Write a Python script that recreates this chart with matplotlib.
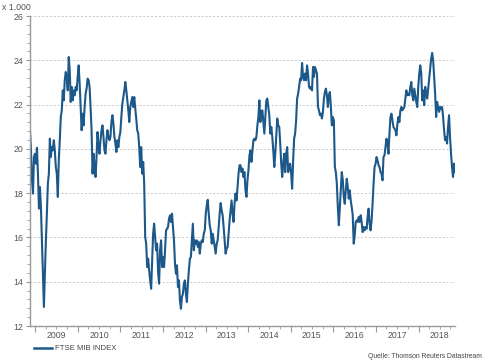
import matplotlib
matplotlib.use("Agg")
import matplotlib.pyplot as plt
import matplotlib.dates as mdates
import matplotlib.transforms as mtransforms
import numpy as np
import pandas as pd

# FTSE MIB index (x 1.000), roughly weekly
vals_2008_2010 = [20.84, 19.93, 18.58, 17.98, 19.63, 19.78, 19.33, 20.05, 18.88, 17.30, 18.28, 17.37,
                  15.87, 14.36, 12.86, 14.36, 15.87, 17.07, 18.43, 18.88, 20.46, 19.63, 20.08, 19.93,
                  20.39, 19.93, 19.18, 18.88, 17.83, 19.48, 20.39, 21.44, 21.74, 22.64, 22.19, 23.10,
                  23.47, 23.25, 22.64, 24.15, 23.55, 22.12, 22.80, 22.19, 22.64, 22.42, 22.80, 22.64,
                  23.25, 23.77, 22.95, 21.89, 20.84, 21.59, 21.06, 21.89, 22.49, 22.72, 23.17, 23.10,
                  22.80, 21.89, 20.84, 18.88, 19.78, 19.18, 18.73, 19.63, 20.76, 20.08, 19.78]
vals_2010_2012 = [20.39, 20.84, 21.06, 20.54, 19.93, 19.78, 20.39, 20.84, 20.54, 20.39, 20.54, 21.21,
                  21.52, 21.14, 20.54, 20.24, 19.86, 20.39, 20.08, 20.54, 20.76, 21.44, 22.04, 22.34,
                  22.64, 23.02, 22.64, 22.19, 21.74, 21.21, 21.89, 22.12, 22.34, 21.89, 22.34, 21.82,
                  21.37, 20.84, 20.69, 20.08, 19.18, 20.08, 18.88, 19.41, 18.43, 16.02, 15.72, 14.66,
                  15.04, 14.51, 14.06, 13.68, 14.96, 16.17, 16.62, 16.02, 15.42, 15.72, 14.44, 13.91,
                  15.42, 15.87, 14.66, 15.11, 14.66, 15.42, 16.32, 16.39, 16.47, 16.85]
vals_2012_2013 = [17.00, 16.70, 17.07, 16.47, 15.87, 14.81, 14.36, 14.74, 13.76, 14.06, 13.16, 12.78,
                  13.31, 13.46, 13.91, 14.06, 13.46, 13.08, 13.91, 14.51, 15.04, 15.11, 15.87, 16.62,
                  15.42, 15.87, 15.72, 15.87, 15.57, 15.79, 15.27, 15.72, 15.87, 15.79, 16.17, 16.32,
                  17.07, 17.45, 17.70, 17.07, 16.55, 16.32, 15.72, 16.17, 15.87, 15.57, 15.27, 15.72,
                  15.87, 16.47, 17.07, 17.55, 17.22, 17.00, 16.47, 15.87, 15.27, 15.49, 15.57, 16.17,
                  16.77, 17.22, 17.67, 17.07, 16.70, 17.53, 17.98, 17.67, 18.28, 18.88, 19.26]
vals_2013_2015 = [19.26, 18.95, 19.11, 18.73, 18.95, 18.13, 17.83, 18.58, 19.03, 19.71, 19.93, 19.41,
                  19.93, 20.39, 20.46, 20.39, 20.54, 21.06, 21.44, 22.19, 21.21, 21.67, 21.74, 21.21,
                  20.69, 21.44, 22.19, 22.27, 21.89, 21.52, 20.69, 20.99, 20.54, 19.93, 19.18, 19.78,
                  20.54, 21.37, 21.06, 20.99, 20.24, 19.33, 18.73, 19.33, 19.78, 18.95, 19.78, 20.08,
                  18.95, 19.18, 19.33, 18.88, 18.20, 19.48, 20.46, 20.69, 21.29, 22.27, 22.49, 22.80,
                  23.17, 23.10, 23.88, 23.25, 23.10, 23.40, 23.10, 23.77, 23.40, 22.80, 22.72]
vals_2015_2016 = [22.80, 22.64, 23.70, 23.25, 23.70, 23.55, 23.40, 21.89, 21.74, 21.52, 21.59, 21.37,
                  21.67, 22.27, 22.57, 22.72, 22.42, 21.89, 22.42, 22.57, 21.89, 21.06, 21.44, 21.29,
                  19.18, 18.95, 18.43, 17.37, 16.55, 17.37, 18.28, 18.95, 18.58, 17.83, 17.52, 18.13,
                  18.65, 18.28, 17.75, 18.13, 17.67, 17.37, 17.00, 15.72, 16.09, 16.70, 16.77, 16.70,
                  16.92, 16.70, 17.00, 16.70, 16.24, 16.47, 16.32, 16.47, 16.39, 16.92, 17.30, 16.62,
                  16.32, 16.77, 17.53, 18.43, 19.18, 19.33, 19.63, 19.48, 19.26, 19.18]
vals_2017_2018 = [18.95, 18.88, 18.58, 19.63, 19.71, 20.08, 20.46, 20.24, 19.78, 20.69, 21.44, 21.59,
                  21.29, 20.99, 20.91, 20.84, 20.61, 21.14, 21.44, 21.21, 21.74, 21.89, 21.74, 21.82,
                  21.89, 22.27, 22.64, 22.42, 22.49, 22.42, 22.80, 23.02, 22.42, 22.19, 22.72, 22.42,
                  22.12, 21.89, 22.80, 23.40, 23.77, 23.40, 22.19, 22.64, 21.97, 22.80, 22.49, 22.27,
                  22.72, 23.17, 23.62, 24.07, 24.33, 24.00, 23.25, 22.49, 21.44, 22.12, 21.89, 21.67,
                  21.89, 21.82, 21.89, 21.44, 20.84, 20.39, 20.54, 20.24, 20.99, 21.52, 20.54, 19.78,
                  19.18, 18.73, 19.33, 18.95]

start_date = "2008-11-16"
end_date = "2018-11-10"
years = list(range(2009, 2019))
y_ticks = [12, 14, 16, 18, 20, 22, 24, 26]
series_name = "FTSE MIB INDEX"
unit_label = "x 1.000"
source_label = "Quelle: Thomson Reuters Datastream"

values = (vals_2008_2010 + vals_2010_2012 + vals_2012_2013 +
          vals_2013_2015 + vals_2015_2016 + vals_2017_2018)
dates = pd.date_range(start_date, end_date, periods=len(values))

plt.rcParams['font.family'] = ['Liberation Sans', 'DejaVu Sans']

W, H = 485, 360
fig = plt.figure(figsize=(W / 100, H / 100), dpi=100)
ax = fig.add_axes([30 / W, 1 - 326 / H, (455 - 30) / W, (326 - 16) / H])

line_color = "#1c5889"
ax.plot(dates, values, color=line_color, lw=1.5, solid_joinstyle="round")

ax.set_xlim(dates[0], dates[-1])
ax.set_ylim(12, 26)
ax.set_yticks(y_ticks)
ax.set_yticks(np.arange(12, 26.01, 0.4), minor=True)
ax.grid(axis="y", which="major", linestyle=(0, (2, 2)), color="#c8c8c8", lw=0.7)

for s in ["top", "right"]:
    ax.spines[s].set_visible(False)
for s in ["left", "bottom"]:
    ax.spines[s].set_color("#9a9a9a")
    ax.spines[s].set_linewidth(1.0)

tick_col = "#555555"
ax.tick_params(axis="y", which="major", length=3, width=0.8, color="#9a9a9a",
               labelsize=6.3, labelcolor=tick_col, pad=2)
ax.tick_params(axis="y", which="minor", length=2, width=0.6, color="#9a9a9a")

ax.xaxis.set_major_locator(mdates.YearLocator())
ax.xaxis.set_minor_locator(mdates.MonthLocator(bymonth=[4, 7, 10]))
ax.tick_params(axis="x", which="major", length=4, width=0.8, color="#9a9a9a", labelbottom=False)
ax.tick_params(axis="x", which="minor", length=2.5, width=0.6, color="#9a9a9a", labelbottom=False)

trans = mtransforms.blended_transform_factory(ax.transData, ax.transAxes)
for yr in years:
    ax.text(mdates.date2num(pd.Timestamp(f"{yr}-07-01")), -9.5 / 310, str(yr),
            transform=trans, ha="center", va="center", fontsize=6.3, color=tick_col)

fig.text(2 / W, 1 - 7 / H, unit_label, ha="left", va="center", fontsize=6.3, color=tick_col)

# legend
fig.lines.append(plt.Line2D([34 / W, 52 / W], [1 - 348 / H, 1 - 348 / H],
                            transform=fig.transFigure, color=line_color, lw=1.8))
fig.text(55 / W, 1 - 348 / H, series_name, ha="left", va="center", fontsize=5.6, color="#444444")
fig.text(482 / W, 1 - 353.5 / H, source_label, ha="right", va="top", fontsize=4.9, color="#444444")

fig.savefig("out.png", dpi=100)
